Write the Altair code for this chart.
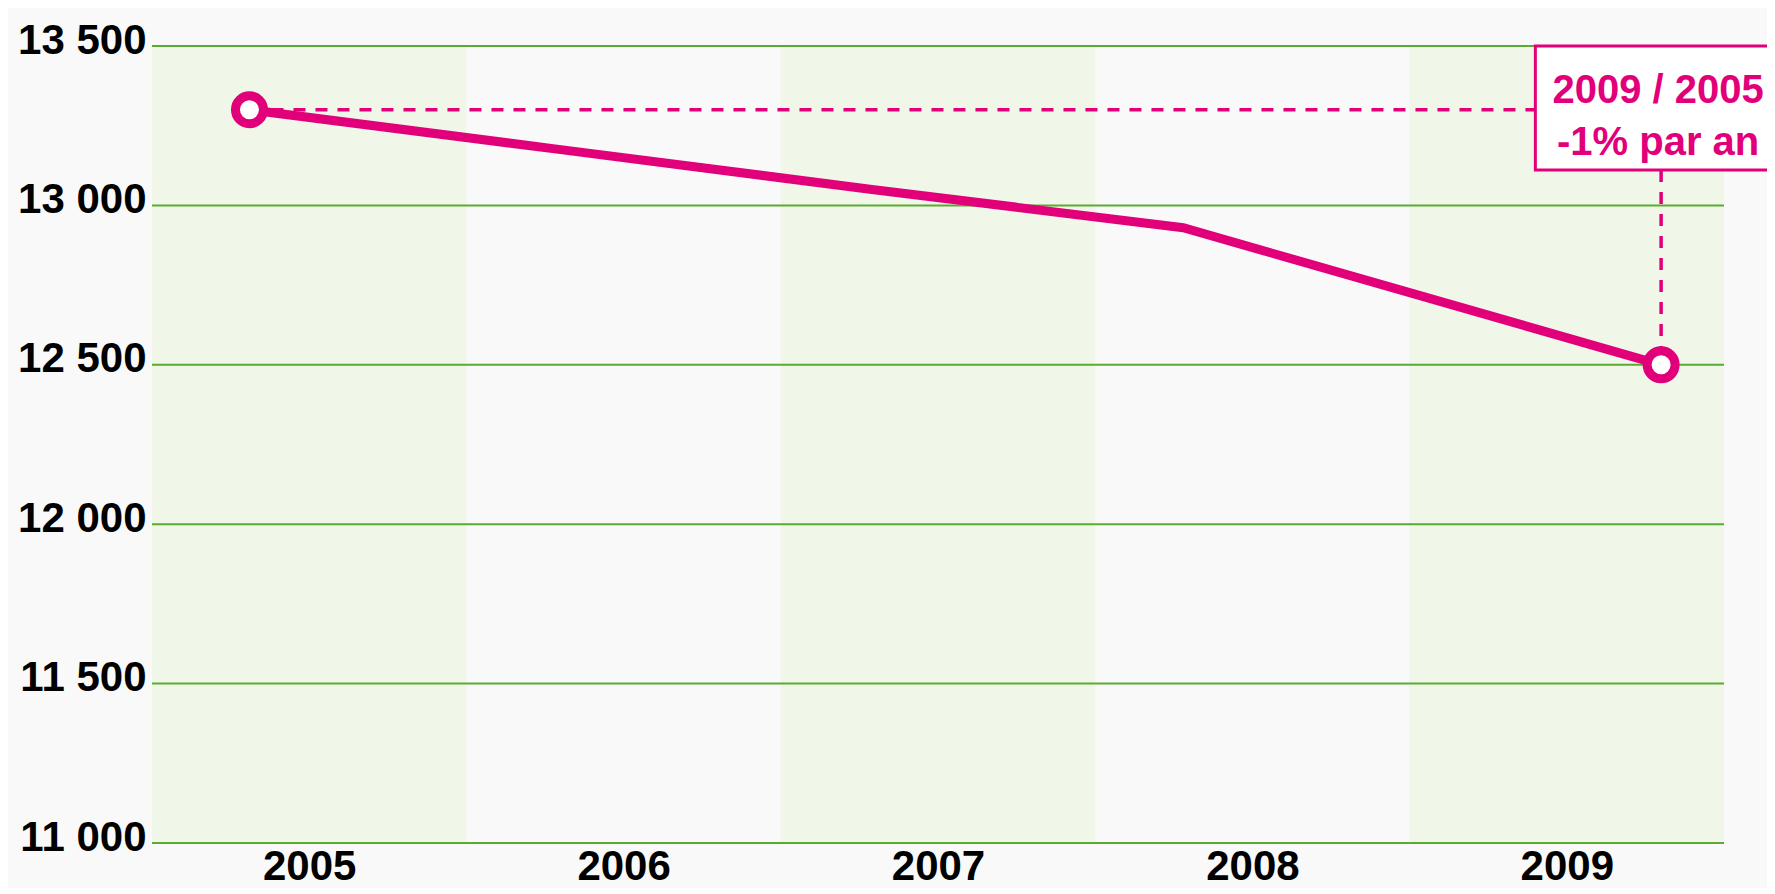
import altair as alt
import pandas as pd

# ---- data ----
years = [2005, 2006, 2007, 2008, 2009]
shaded = [True, False, True, False, True]
line_t = [2004.81, 2005.80, 2006.79, 2007.78, 2009.30]
line_values = [13300, 13175, 13050, 12930, 12500]
y_ticks = [11000, 11500, 12000, 12500, 13000, 13500]
box_lines = ["2009 / 2005", "-1% par an"]

# annotation anchors (data units)
BOX_LEFT_T = 2008.90
BOX_RIGHT_T = 2010.8
BOX_BOTTOM = 13111
TEXT_Y = [13321, 13158]

PINK = "#e2007a"
GREEN = "#5aab32"
BAND = "#f0f6e8"
BG = "#f9f9f9"
FONT = "Liberation Sans"

xs = alt.Scale(domain=[2004.5, 2009.5], nice=False, zero=False)
ys = alt.Scale(domain=[min(y_ticks), max(y_ticks)], nice=False, zero=False)

band_df = pd.DataFrame({"year": years, "shaded": shaded})
band_df = band_df[band_df.shaded].copy()
band_df["x0"] = band_df.year - 0.5
band_df["x1"] = band_df.year + 0.5
band_df["y0"] = min(y_ticks)
band_df["y1"] = max(y_ticks)

grid_df = pd.DataFrame({"v": y_ticks})
line_df = pd.DataFrame({"t": line_t, "v": line_values})
pts_df = line_df.iloc[[0, -1]]

hrule_df = pd.DataFrame({"x": [line_t[0]], "x2": [BOX_LEFT_T], "y": [line_values[0]]})
vrule_df = pd.DataFrame({"x": [line_t[-1]], "y": [BOX_BOTTOM], "y2": [line_values[-1]]})
box_df = pd.DataFrame({"x": [BOX_LEFT_T], "x2": [BOX_RIGHT_T], "y": [max(y_ticks)], "y2": [BOX_BOTTOM]})
text_df = pd.DataFrame({"x": [line_t[-1]] * 2, "y": TEXT_Y, "label": box_lines})

x_axis = alt.Axis(values=years, format="d", title=None, grid=False, ticks=False, domain=False,
                  labelFontSize=42, labelFont=FONT, labelFontWeight="bold", labelColor="black",
                  labelPadding=3, labelOverlap=False, labelFlush=False)
y_axis = alt.Axis(values=y_ticks, title=None, grid=False, ticks=False, domain=False,
                  labelExpr="replace(format(datum.value, ','), ',', ' ')",
                  labelFontSize=42, labelFont=FONT, labelFontWeight="bold", labelColor="black",
                  labelPadding=6, labelBaseline="middle", labelOffset=-6, labelOverlap=False,
                  labelFlush=False)


def X(field):
    return alt.X(field, scale=xs, axis=x_axis)


def Y(field):
    return alt.Y(field, scale=ys, axis=y_axis)


bands = alt.Chart(band_df).mark_rect(color=BAND).encode(
    x=X("x0:Q"), x2="x1:Q", y=Y("y0:Q"), y2="y1:Q"
)

grid = alt.Chart(grid_df).mark_rule(color=GREEN, strokeWidth=2).encode(y=Y("v:Q"))

hrule = alt.Chart(hrule_df).mark_rule(color=PINK, strokeWidth=3.5, strokeDash=[12, 10]).encode(
    x=X("x:Q"), x2="x2:Q", y=Y("y:Q")
)
vrule = alt.Chart(vrule_df).mark_rule(color=PINK, strokeWidth=3.5, strokeDash=[12, 10]).encode(
    x=X("x:Q"), y=Y("y:Q"), y2="y2:Q"
)
box = alt.Chart(box_df).mark_rect(fill="white", stroke=PINK, strokeWidth=3).encode(
    x=X("x:Q"), x2="x2:Q", y=Y("y:Q"), y2="y2:Q"
)
texts = alt.Chart(text_df).mark_text(
    color=PINK, font=FONT, fontSize=40, fontWeight="bold", align="center", baseline="alphabetic",
    dx=-3
).encode(x=X("x:Q"), y=Y("y:Q"), text="label:N")

line = alt.Chart(line_df).mark_line(color=PINK, strokeWidth=9, interpolate="linear").encode(
    x=X("t:Q"), y=Y("v:Q")
)
points = alt.Chart(pts_df).mark_point(
    shape="circle", size=784, filled=True, fill="white", stroke=PINK, strokeWidth=9, opacity=1
).encode(x=X("t:Q"), y=Y("v:Q"))

chart = alt.layer(bands, grid, hrule, vrule, box, texts, line, points).properties(
    width=1572,
    height=797,
    autosize=alt.AutoSizeParams(type="none"),
    padding={"left": 144, "top": 38, "right": 43, "bottom": 45},
).configure(background=BG).configure_view(stroke=None)

chart.save("out.html", embed_options={"renderer": "svg", "actions": False})
